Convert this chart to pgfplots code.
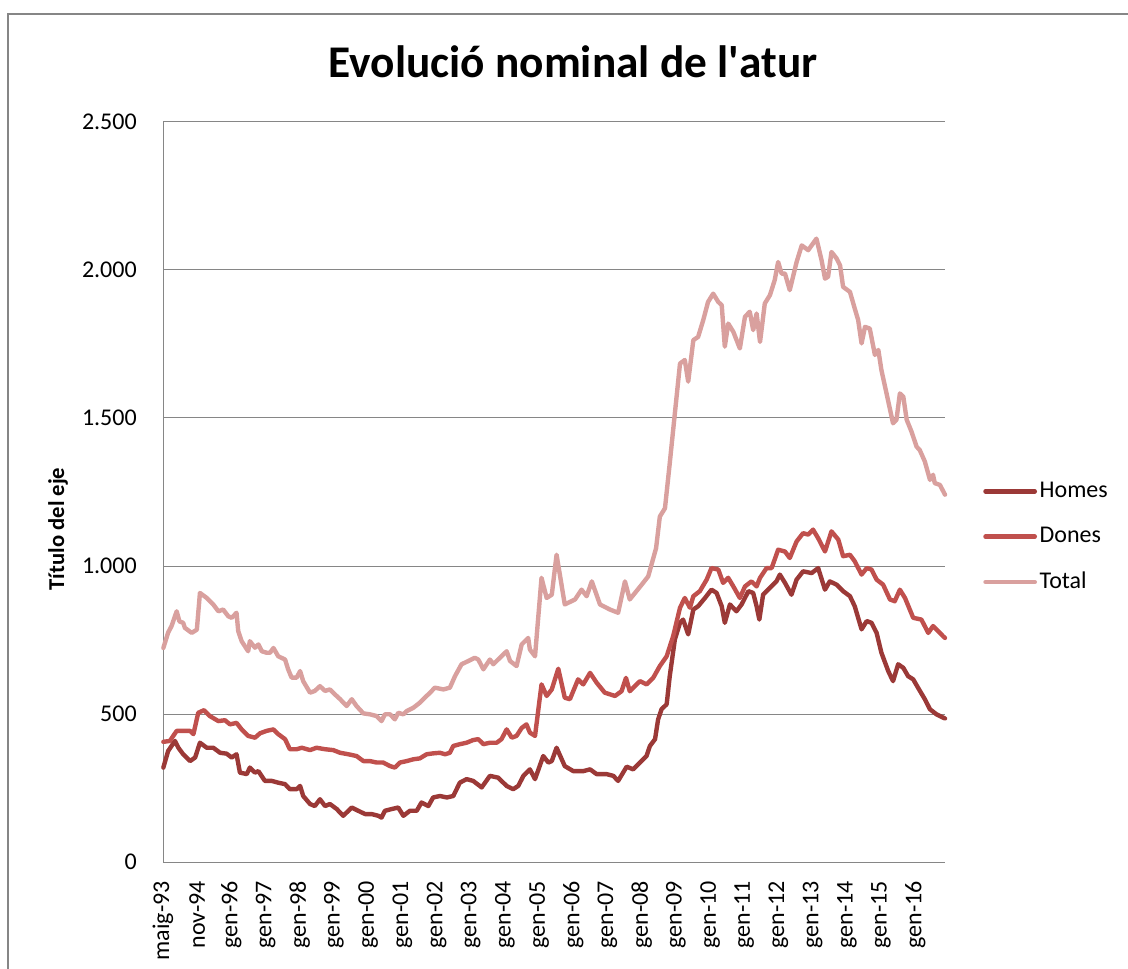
\documentclass[border=0pt]{standalone}
\usepackage{pgfplots}
\pgfplotsset{compat=1.18}
\usepackage{fontspec}
\setmainfont{Carlito}

\definecolor{homes}{RGB}{155,57,55}
\definecolor{dones}{RGB}{192,80,77}
\definecolor{total}{RGB}{217,160,158}
\definecolor{gridgray}{RGB}{134,134,134}

\begin{document}
\begin{tikzpicture}
% page is 1128 x 968 px at 0.75pt per px
\useasboundingbox (0,0) rectangle (846pt,726pt);
\draw[gridgray, line width=1.5pt] (6pt,-20pt) rectangle (870pt,715.5pt);

\node[anchor=base, font=\bfseries\fontsize{34}{37}\selectfont] at (429.75pt,667.5pt) {Evolució nominal de l\textquotesingle atur};
\node[rotate=90, font=\bfseries\fontsize{17}{20}\selectfont] at (43.5pt,329.25pt) {Título del eje};

\begin{axis}[
    at={(122.25pt,79.5pt)}, anchor=south west,
    scale only axis, width=586.5pt, height=555pt,
    xmin=0, xmax=22.87, ymin=0, ymax=2500,
    clip=false,
    axis lines*=left,
    axis line style={gridgray, line width=0.75pt},
    ymajorgrids, grid style={gridgray, line width=0.75pt},
    major tick length=0pt,
    ytick={0,500,1000,1500,2000,2500},
    yticklabels={0,500,1.000,1.500,2.000,2.500},
    xtick={0,...,22},
    xticklabels={maig-93,nov-94,gen-96,gen-97,gen-98,gen-99,gen-00,gen-01,gen-02,gen-03,gen-04,gen-05,gen-06,gen-07,gen-08,gen-09,gen-10,gen-11,gen-12,gen-13,gen-14,gen-15,gen-16},
    ticklabel style={font=\fontsize{18}{20}\selectfont, inner sep=0pt},
    xticklabel style={rotate=90, anchor=east},
    yticklabel style={anchor=east},
    xticklabel shift=14.25pt,
    yticklabel shift=19.5pt,
    legend cell align=left,
    legend image code/.code={\draw[#1] (1.5pt,0pt) -- (38.5pt,0pt);},
    legend style={at={(1.0486,0.4396)}, anchor=west, draw=none, fill=none,
        inner sep=0pt, row sep=17pt, column sep=2pt,
        font=\fontsize{18}{20}\selectfont,
        nodes={inner sep=0pt, text height=13pt, text depth=4pt}},
    every axis plot/.append style={line width=3.3pt, line join=round, line cap=round, no marks},
]
\addplot[homes] coordinates {
(0.01,319)(0.15,375)(0.35,409)(0.45,386)(0.59,364)(0.79,341)(0.94,353)(1.08,403)(1.28,386)(1.47,386)
(1.67,369)(1.86,366)(2.01,353)(2.15,364)(2.25,302)(2.45,297)(2.54,319)(2.69,302)(2.79,307)(2.98,274)
(3.18,274)(3.37,268)(3.57,263)(3.71,246)(3.91,246)(4.01,257)(4.10,223)(4.30,196)(4.44,189)(4.59,212)
(4.74,189)(4.88,196)(5.08,179)(5.27,156)(5.52,184)(5.71,173)(5.91,162)(6.10,162)(6.30,156)(6.39,150)
(6.49,173)(6.69,179)(6.88,184)(7.03,156)(7.22,173)(7.42,173)(7.56,201)(7.76,189)(7.90,218)(8.10,223)
(8.30,218)(8.49,223)(8.68,268)(8.88,280)(9.07,274)(9.32,252)(9.56,291)(9.80,285)(10.05,257)(10.24,246)
(10.39,257)(10.54,291)(10.73,313)(10.88,280)(11.12,358)(11.27,336)(11.37,341)(11.51,386)(11.75,324)(12.00,307)
(12.29,307)(12.49,313)(12.68,297)(12.97,297)(13.17,291)(13.31,274)(13.56,322)(13.75,313)(13.95,336)(14.14,358)
(14.24,392)(14.39,415)(14.48,482)(14.58,516)(14.73,533)(14.82,628)(14.97,752)(15.12,808)(15.21,819)(15.36,769)
(15.51,853)(15.65,864)(15.85,892)(16.04,920)(16.19,909)(16.34,864)(16.43,808)(16.58,870)(16.77,847)(16.92,870)
(17.12,915)(17.26,909)(17.36,864)(17.44,819)(17.55,903)(17.75,926)(17.94,948)(18.04,971)(18.19,943)(18.38,903)
(18.53,954)(18.72,982)(18.97,976)(19.16,993)(19.36,920)(19.50,948)(19.70,937)(19.89,915)(20.09,898)(20.23,864)
(20.43,786)(20.58,814)(20.72,808)(20.87,774)(21.01,707)(21.21,645)(21.35,611)(21.50,668)(21.65,656)(21.79,628)
(21.94,617)(22.08,589)(22.28,550)(22.43,516)(22.62,499)(22.81,488)(22.87,485)
};
\addlegendentry{Homes}
\addplot[dones] coordinates {
(0.01,406)(0.20,409)(0.40,443)(0.59,443)(0.79,443)(0.89,432)(1.03,504)(1.20,513)(1.37,493)(1.62,476)
(1.81,479)(1.96,465)(2.15,470)(2.30,448)(2.49,426)(2.69,420)(2.84,435)(3.03,443)(3.23,448)(3.37,432)
(3.57,415)(3.71,381)(3.91,381)(4.06,386)(4.30,378)(4.49,386)(4.74,381)(4.98,378)(5.18,369)(5.42,364)
(5.66,358)(5.86,341)(6.05,341)(6.25,336)(6.44,336)(6.64,324)(6.78,319)(6.93,336)(7.13,341)(7.32,347)
(7.51,350)(7.71,364)(7.90,367)(8.10,369)(8.25,364)(8.39,369)(8.49,392)(8.68,398)(8.88,403)(9.07,412)
(9.22,415)(9.37,398)(9.56,403)(9.76,403)(9.90,415)(10.05,448)(10.20,420)(10.34,426)(10.49,453)(10.63,465)
(10.73,437)(10.88,426)(11.07,600)(11.22,561)(11.37,583)(11.56,653)(11.75,555)(11.90,550)(12.14,617)(12.29,600)
(12.49,639)(12.68,606)(12.92,572)(13.22,561)(13.41,577)(13.54,622)(13.65,577)(13.85,600)(13.95,611)(14.14,600)
(14.34,623)(14.53,662)(14.73,695)(14.92,763)(15.12,859)(15.26,892)(15.41,859)(15.51,898)(15.70,915)(15.90,954)
(16.04,993)(16.24,988)(16.38,943)(16.53,960)(16.68,931)(16.87,892)(17.02,931)(17.21,948)(17.36,931)(17.46,960)
(17.65,993)(17.80,993)(17.99,1055)(18.19,1049)(18.33,1027)(18.53,1083)(18.72,1111)(18.87,1106)(19.01,1123)(19.16,1094)
(19.36,1049)(19.55,1117)(19.75,1089)(19.89,1033)(20.09,1038)(20.23,1016)(20.43,971)(20.58,993)(20.72,988)(20.87,954)
(21.06,937)(21.26,887)(21.40,881)(21.55,920)(21.70,892)(21.94,825)(22.18,819)(22.38,774)(22.52,797)(22.67,780)
(22.82,762)(22.87,757)
};
\addlegendentry{Dones}
\addplot[total] coordinates {
(0.01,723)(0.15,775)(0.25,797)(0.40,847)(0.48,813)(0.59,808)(0.64,791)(0.84,774)(0.99,785)(1.08,909)
(1.28,892)(1.47,870)(1.62,847)(1.76,853)(1.91,830)(2.01,825)(2.15,842)(2.20,780)(2.30,746)(2.49,712)
(2.54,746)(2.69,724)(2.79,735)(2.89,712)(3.03,707)(3.13,707)(3.23,723)(3.37,695)(3.57,684)(3.66,651)
(3.76,623)(3.91,623)(4.01,645)(4.10,611)(4.30,572)(4.44,578)(4.59,594)(4.74,578)(4.88,583)(5.03,566)
(5.18,550)(5.37,527)(5.52,550)(5.66,527)(5.86,502)(6.05,499)(6.25,493)(6.39,476)(6.49,499)(6.64,499)
(6.78,482)(6.88,504)(7.03,499)(7.13,510)(7.32,521)(7.51,538)(7.61,550)(7.81,572)(7.95,589)(8.20,583)
(8.39,589)(8.54,628)(8.73,668)(8.93,679)(9.12,690)(9.22,684)(9.37,651)(9.56,684)(9.66,668)(9.80,684)
(10.05,712)(10.15,679)(10.34,662)(10.49,735)(10.68,757)(10.73,718)(10.88,695)(11.07,960)(11.22,892)(11.37,903)
(11.51,1038)(11.75,870)(12.05,887)(12.24,920)(12.39,898)(12.54,948)(12.78,870)(13.07,853)(13.31,842)(13.51,948)
(13.65,887)(14.00,937)(14.19,965)(14.34,1027)(14.42,1060)(14.53,1167)(14.68,1195)(14.82,1347)(14.97,1516)(15.12,1684)
(15.26,1696)(15.36,1623)(15.51,1763)(15.65,1774)(15.80,1831)(15.94,1892)(16.09,1920)(16.24,1892)(16.34,1881)(16.43,1741)
(16.53,1819)(16.68,1791)(16.87,1735)(17.02,1842)(17.16,1859)(17.26,1797)(17.36,1853)(17.46,1757)(17.60,1887)(17.75,1915)
(17.89,1966)(17.99,2027)(18.09,1988)(18.19,1988)(18.33,1932)(18.53,2027)(18.68,2083)(18.87,2067)(19.11,2106)(19.26,2033)
(19.36,1971)(19.45,1977)(19.55,2061)(19.70,2039)(19.80,2016)(19.89,1943)(20.09,1926)(20.23,1870)(20.33,1831)(20.43,1752)
(20.53,1808)(20.67,1802)(20.82,1713)(20.92,1730)(21.01,1662)(21.16,1583)(21.35,1482)(21.45,1494)(21.55,1583)(21.65,1572)
(21.75,1494)(21.89,1454)(22.04,1403)(22.13,1392)(22.28,1353)(22.43,1291)(22.52,1308)(22.57,1280)(22.72,1274)(22.87,1241)
};
\addlegendentry{Total}
\end{axis}
\end{tikzpicture}
\end{document}
